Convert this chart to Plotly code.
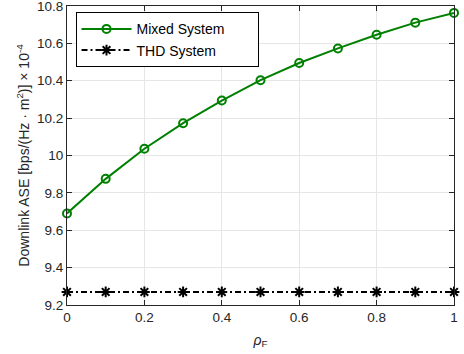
import plotly.graph_objects as go

rho = [0, 0.1, 0.2, 0.3, 0.4, 0.5, 0.6, 0.7, 0.8, 0.9, 1.0]
mixed = [9.69, 9.875, 10.036, 10.173, 10.294, 10.403, 10.495, 10.573, 10.646, 10.711, 10.763]
thd = [9.27] * 11

x_ticks = [0, 0.2, 0.4, 0.6, 0.8, 1]
x_tick_labels = ["0", "0.2", "0.4", "0.6", "0.8", "1"]
y_ticks = [9.2, 9.4, 9.6, 9.8, 10, 10.2, 10.4, 10.6, 10.8]
y_tick_labels = ["9.2", "9.4", "9.6", "9.8", "10", "10.2", "10.4", "10.6", "10.8"]

fig = go.Figure()
fig.add_trace(go.Scatter(
    x=rho, y=mixed, name="Mixed System\u00a0\u00a0\u00a0\u00a0\u00a0\u00a0\u00a0", mode="lines+markers",
    line=dict(color="#008000", width=2),
    marker=dict(symbol="circle-open", size=8, color="#008000", line=dict(width=2)),
    cliponaxis=False,
))
fig.add_trace(go.Scatter(
    x=rho, y=thd, name="THD System", mode="lines+markers",
    line=dict(color="black", width=2, dash="6px,3px,2px,3px"),
    marker=dict(symbol="asterisk-open", size=9, color="black", line=dict(width=2, color="black")),
    cliponaxis=False,
))

axis_common = dict(
    showline=True, linecolor="#262626", linewidth=1, mirror="ticks",
    ticks="inside", ticklen=5, tickcolor="#262626",
    showgrid=True, gridcolor="#e6e6e6", gridwidth=1, zeroline=False,
    tickfont=dict(family="Liberation Sans, Arial", size=13.5, color="#262626"),
    ticklabeloverflow="allow",
)

fig.update_layout(
    width=464, height=354,
    margin=dict(l=67, r=10, t=6, b=49, autoexpand=False),
    plot_bgcolor="white", paper_bgcolor="white",
    font=dict(family="Liberation Sans, Arial", color="#262626"),
    xaxis=dict(range=[0, 1], tickvals=x_ticks, ticktext=x_tick_labels,
               title=dict(text="<i>ρ</i><sub>F</sub>", font=dict(size=14), standoff=10),
               **axis_common),
    yaxis=dict(range=[9.2, 10.8], tickvals=y_ticks, ticktext=y_tick_labels,
               title=dict(text="Downlink ASE [bps/(Hz · m<sup>2</sup>)] × 10<sup>-4</sup>",
                          font=dict(size=14), standoff=4),
               **axis_common),
    legend=dict(x=0.022, y=0.979, xanchor="left", yanchor="top",
                bordercolor="black", borderwidth=1, bgcolor="white",
                font=dict(family="Liberation Sans, Arial", size=14, color="black"),
                tracegroupgap=0, itemwidth=50),
    showlegend=True,
)

fig.write_html("out.html", config={"displayModeBar": False},
               post_script="document.body.style.margin='0';document.body.style.padding='0';")
